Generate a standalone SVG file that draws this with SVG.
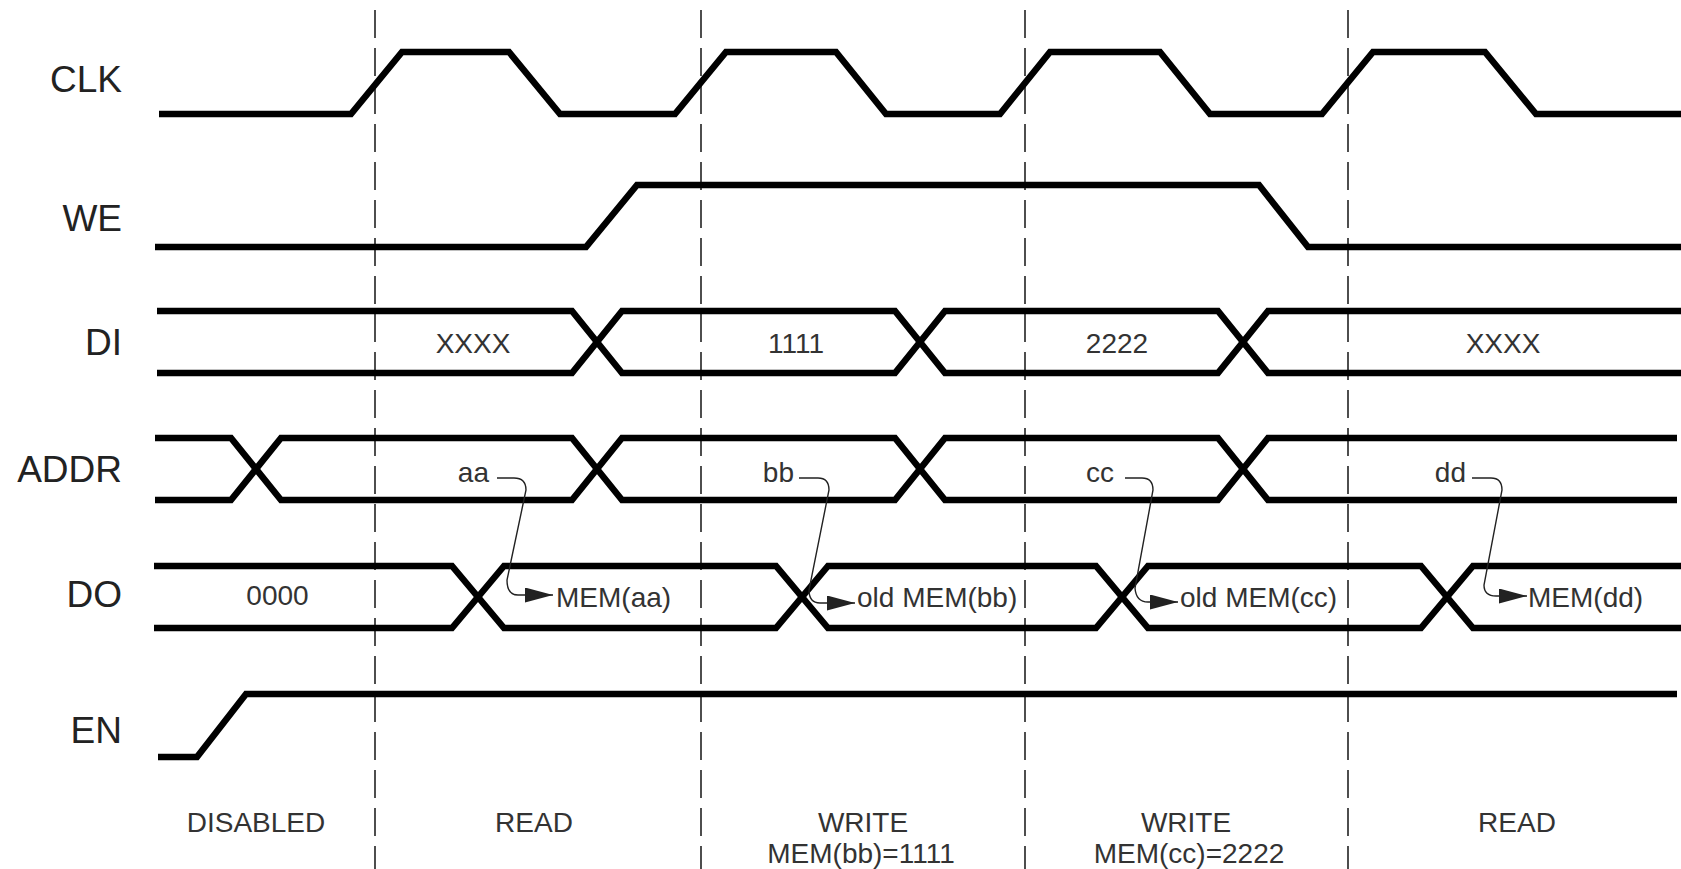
<svg xmlns="http://www.w3.org/2000/svg" width="1681" height="869" viewBox="0 0 1681 869">
  <style>
    .wave { fill: none; stroke: #000; stroke-width: 6.5; stroke-linejoin: miter; stroke-linecap: butt; }
    .grid { fill: none; stroke: #222; stroke-width: 1.6; stroke-dasharray: 28 10; }
    .name { font-family: "Liberation Sans", Arial, sans-serif; font-size: 37px; fill: #222; text-anchor: end; }
    .val { font-family: "Liberation Sans", Arial, sans-serif; font-size: 28px; fill: #333; }
    .mid { text-anchor: middle; }
    .endt { text-anchor: end; }
    .conn { fill: none; stroke: #222; stroke-width: 1.4; }
  </style>
  <defs>
    <marker id="arr" markerUnits="userSpaceOnUse" markerWidth="30" markerHeight="16" refX="28" refY="7.5" orient="auto">
      <path d="M0,0 L28,7.5 L0,15 Z" fill="#222"/>
    </marker>
  </defs>
  <rect width="1681" height="869" fill="#fff"/>

  <g id="phase-dividers">
    <line class="grid" x1="375" y1="10" x2="375" y2="869"/>
    <line class="grid" x1="701" y1="10" x2="701" y2="869"/>
    <line class="grid" x1="1025" y1="10" x2="1025" y2="869"/>
    <line class="grid" x1="1348" y1="10" x2="1348" y2="869"/>
  </g>

  <g id="CLK">
    <text class="name" x="122" y="92">CLK</text>
    <path class="wave" d="M159,114 H351 L402,52 H509 L560,114 H675 L726,52 H836 L886,114 H1000 L1050,52 H1160 L1210,114 H1322 L1373,52 H1485 L1536,114 H1681"/>
  </g>

  <g id="WE">
    <text class="name" x="122" y="231">WE</text>
    <path class="wave" d="M155,247 H586 L637,185 H1259 L1308,247 H1681"/>
  </g>

  <g id="DI">
    <text class="name" x="122" y="355">DI</text>
    <path class="wave" d="M157,311 H572 L622,373 H895 L945,311 H1218 L1268,373 H1681"/>
    <path class="wave" d="M157,373 H572 L622,311 H895 L945,373 H1218 L1268,311 H1681"/>
    <text class="val mid" x="473" y="353">XXXX</text>
    <text class="val mid" x="796" y="353">1111</text>
    <text class="val mid" x="1117" y="353">2222</text>
    <text class="val mid" x="1503" y="353">XXXX</text>
  </g>

  <g id="ADDR">
    <text class="name" x="122" y="482">ADDR</text>
    <path class="wave" d="M155,438 H231 L281,500 H572 L622,438 H895 L945,500 H1218 L1268,438 H1677"/>
    <path class="wave" d="M155,500 H231 L281,438 H572 L622,500 H895 L945,438 H1218 L1268,500 H1677"/>
    <text class="val endt" x="489" y="482">aa</text>
    <text class="val endt" x="794" y="482">bb</text>
    <text class="val endt" x="1114" y="482">cc</text>
    <text class="val endt" x="1466" y="482">dd</text>
  </g>

  <g id="DO">
    <text class="name" x="122" y="607">DO</text>
    <path class="wave" d="M154,566 H452 L504,628 H776 L828,566 H1096 L1148,628 H1421 L1473,566 H1681"/>
    <path class="wave" d="M154,628 H452 L504,566 H776 L828,628 H1096 L1148,566 H1421 L1473,628 H1681"/>
    <text class="val mid" x="277.5" y="605">0000</text>
    <text class="val" x="556" y="607">MEM(aa)</text>
    <text class="val" x="857" y="607">old MEM(bb)</text>
    <text class="val" x="1180" y="607">old MEM(cc)</text>
    <text class="val" x="1528" y="607">MEM(dd)</text>
  </g>

  <g id="EN">
    <text class="name" x="122" y="743">EN</text>
    <path class="wave" d="M158,757 H197 L246,694 H1677"/>
  </g>

  <g id="connectors">
    <path class="conn" marker-end="url(#arr)" d="M497,478 H514 Q526,478 526,490 L507,580 Q507,595 518,595 H553"/>
    <path class="conn" marker-end="url(#arr)" d="M799,478 H818 Q829,478 829,490 L809,590 Q809,603 820,603 H855"/>
    <path class="conn" marker-end="url(#arr)" d="M1125,478 H1142 Q1153,478 1153,490 L1135,588 Q1136,602 1148,602 H1178"/>
    <path class="conn" marker-end="url(#arr)" d="M1472,478 H1491 Q1502,478 1502,490 L1484,585 Q1484,596 1496,596 H1527"/>
  </g>

  <g id="phase-labels">
    <text class="val mid" x="256" y="832">DISABLED</text>
    <text class="val mid" x="534" y="832">READ</text>
    <text class="val mid" x="863" y="832">WRITE</text>
    <text class="val mid" x="861" y="863">MEM(bb)=1111</text>
    <text class="val mid" x="1186" y="832">WRITE</text>
    <text class="val mid" x="1189" y="863">MEM(cc)=2222</text>
    <text class="val mid" x="1517" y="832">READ</text>
  </g>
</svg>
